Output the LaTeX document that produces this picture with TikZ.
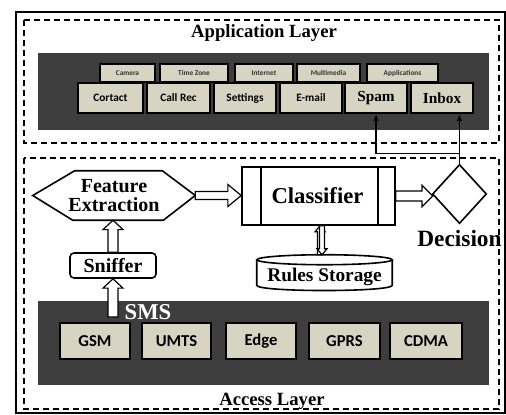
\documentclass[tikz,border=0pt]{standalone}
\usepackage{fontspec}
\setmainfont{Liberation Serif}
\newfontfamily\carl{Carlito}
\usetikzlibrary{calc,arrows.meta}
\definecolor{panel}{HTML}{3E3E3E}
\definecolor{beige}{HTML}{D8D4C3}
\tikzset{
 bx/.style={draw=black, fill=beige, line width=1.8pt, inner sep=0pt},
 sbx/.style={bx, line width=1.4pt, font=\carl\bfseries\fontsize{5.5}{6}\selectfont, text=black!80},
 mbx/.style={bx, font=\carl\bfseries\fontsize{8.5}{10}\selectfont},
 serifbx/.style={bx, font=\bfseries\fontsize{11.5}{12}\selectfont},
 abx/.style={bx, font=\carl\bfseries\fontsize{12.5}{14}\selectfont},
 panelbox/.style={fill=panel, draw=none, inner sep=0pt},
 dashbox/.style={draw, line width=0.9pt, dash pattern=on 4.5pt off 3pt},
 harr/.style={draw, fill=white, line width=0.9pt, line join=miter},
 plain/.style={inner sep=0pt},
 shapeline/.style={draw, line width=1.2pt, fill=white},
 title/.style={font=\bfseries\fontsize{14}{16}\selectfont},
 bigserif/.style={font=\bfseries\fontsize{15}{15.5}\selectfont, align=center},
 conn/.style={line width=0.9pt, -{Latex[length=5pt,width=4pt]}},
}
\newcommand\bx[7]{\node[#2, minimum width={(#5-#3)*0.75pt}, minimum height={(#6-#4)*0.75pt}] (#1) at ({(#3+#5)/2},{(#4+#6)/2}) {#7};}
% hollow block arrows: #1 start, #2 end, #3 shaft half, #4 head half, #5 head length
\newcommand\harrU[5]{\path[harr] let \p1=(#1), \p2=(#2) in (\x1-#3,\y1) -- (\x1-#3,\y2-#5) -- (\x1-#4,\y2-#5) -- (\x1,\y2) -- (\x1+#4,\y2-#5) -- (\x1+#3,\y2-#5) -- (\x1+#3,\y1) -- cycle;}
\newcommand\harrD[5]{\path[harr] let \p1=(#1), \p2=(#2) in (\x1-#3,\y1) -- (\x1-#3,\y2+#5) -- (\x1-#4,\y2+#5) -- (\x1,\y2) -- (\x1+#4,\y2+#5) -- (\x1+#3,\y2+#5) -- (\x1+#3,\y1) -- cycle;}
\newcommand\harrR[5]{\path[harr] let \p1=(#1), \p2=(#2) in (\x1,\y1-#3) -- (\x2-#5,\y1-#3) -- (\x2-#5,\y1-#4) -- (\x2,\y1) -- (\x2-#5,\y1+#4) -- (\x2-#5,\y1+#3) -- (\x1,\y1+#3) -- cycle;}
\begin{document}
\begin{tikzpicture}[x=0.75pt,y=-0.75pt]
\useasboundingbox (0,0) rectangle (506,414);
\fill[white] (0,0) rectangle (506,414);
% outer frame
\draw[line width=1.8pt] (16,12) rectangle (505,413);
% layer boxes
\draw[dashbox] (24,20) rectangle (499,143);
\draw[dashbox] (24,158) rectangle (499,409);
% application layer
\node[title] (apptitle) at (264,33) {Application Layer};
\bx{apppanel}{panelbox}{38}{53}{489}{130}{}
\bx{cam}{sbx}{100}{64}{155}{82}{Camera}
\bx{tz}{sbx}{160}{64}{228}{82}{Time Zone}
\bx{inet}{sbx}{235}{64}{293}{82}{Internet}
\bx{mm}{sbx}{297}{64}{360}{82}{Multimedia}
\bx{apps}{sbx}{367}{64}{438}{82}{Applications}
\bx{contact}{mbx}{78}{83}{143}{113}{Cortact}
\bx{callrec}{mbx}{147}{83}{210}{113}{Call Rec}
\bx{settings}{mbx}{214}{83}{276}{113}{Settings}
\bx{email}{mbx}{280}{83}{342}{113}{E-mail}
\bx{spam}{serifbx}{345}{83}{407}{113}{Spam}
\bx{inbox}{serifbx}{411}{83}{473}{113}{Inbox}
% access layer panel
\bx{accpanel}{panelbox}{38}{301}{489}{385}{}
\node[font=\bfseries\fontsize{17}{18}\selectfont, text=white] (sms) at (148,312) {SMS};
\bx{gsm}{abx}{60}{323}{130}{359}{GSM}
\bx{umts}{abx}{142}{323}{211}{359}{UMTS}
\bx{edge}{abx}{226}{323}{296}{359}{Edge}
\bx{gprs}{abx}{309}{323}{380}{359}{GPRS}
\bx{cdma}{abx}{390}{323}{462}{359}{CDMA}
\node[title] (acctitle) at (272,401) {Access Layer};
% feature extraction hexagon
\bx{feat}{plain}{33}{171}{195}{220}{}
\draw[shapeline] (feat.west) -- ($(feat.north west)+(42,0)$) -- ($(feat.north east)+(-33,0)$) -- (feat.east) -- ($(feat.south east)+(-32,0)$) -- ($(feat.south west)+(40,0)$) -- cycle;
\node[bigserif] at (feat.center) {Feature\\[-1pt]Extraction};
% sniffer
\bx{sniff}{shapeline, rounded corners=3pt, inner sep=0pt, bigserif}{70}{253}{156}{278}{Sniffer}
% classifier
\bx{cls}{shapeline, inner sep=0pt}{242}{167}{395}{225}{}
\draw[line width=1.2pt] ($(cls.north west)+(20,0)$) -- ($(cls.south west)+(20,0)$);
\draw[line width=1.2pt] ($(cls.north east)+(-18,0)$) -- ($(cls.south east)+(-18,0)$);
\node[font=\bfseries\fontsize{17}{18}\selectfont] at ($(cls.center)+(-1,0)$) {Classifier};
% decision diamond
\bx{dec}{plain}{433}{165}{486}{223}{}
\draw[shapeline] (dec.north) -- (dec.east) -- (dec.south) -- (dec.west) -- cycle;
\node[font=\bfseries\fontsize{17.5}{18}\selectfont, anchor=north] (declab) at ($(dec.south)+(0,2)$) {Decision};
% rules storage cylinder
\bx{rules}{plain}{257}{255}{392}{291}{}
\draw[shapeline] ($(rules.north west)+(0,5)$) -- ($(rules.south west)+(0,-6)$) .. controls ($(rules.south west)+(0,1)$) and ($(rules.south east)+(0,1)$) .. ($(rules.south east)+(0,-6)$) -- ($(rules.north east)+(0,5)$);
\draw[shapeline] ($(rules.north)+(0,5)$) ellipse [x radius=50.6pt, y radius=3.75pt];
\node[font=\bfseries\fontsize{14.5}{15}\selectfont] at (324.5,277) {Rules Storage};
% block arrows
\coordinate (smsbase) at (113,317);
\harrU{smsbase}{sniff.south}{3.75pt}{7.5pt}{7pt}
\harrU{sniff.north}{feat.south}{3.75pt}{7.5pt}{7pt}
\harrR{feat.east}{cls.west}{3pt}{8.25pt}{10pt}
\harrR{cls.east}{dec.west}{3.75pt}{8pt}{8pt}
\coordinate (upbase) at ($(rules.north)+(-4.5,0)$);
\harrU{upbase}{cls.south}{1.9pt}{3.75pt}{4.5pt}
\coordinate (downbase) at ($(cls.south)+(3.5,0)$);
\harrD{downbase}{rules.north}{1.9pt}{3.75pt}{4.5pt}
% decision outputs
\coordinate (junc) at ($(dec.north)+(0,-11)$);
\draw[line width=0.9pt] (dec.north) -- (junc);
\draw[conn] (junc) -- (junc |- inbox.south);
\draw[conn] (junc) -| (spam.south);
\end{tikzpicture}
\end{document}
